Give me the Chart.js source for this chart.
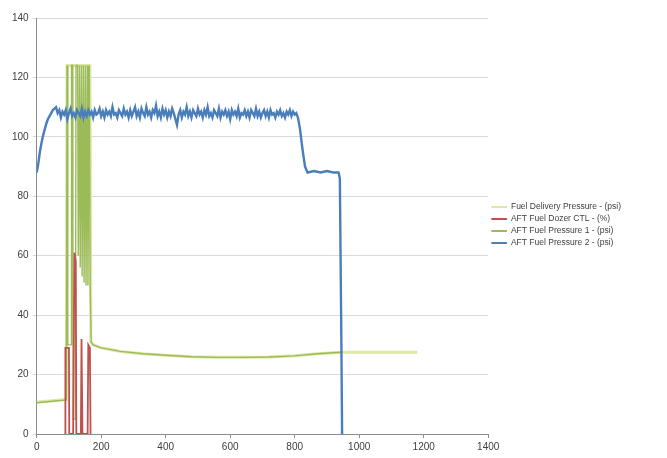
<!DOCTYPE html>
<html>
<head>
<meta charset="utf-8">
<script src="https://cdn.jsdelivr.net/npm/chart.js@4/dist/chart.umd.min.js"></script>
<style>
  html, body { margin: 0; padding: 0; background: #fff; }
</style>
</head>
<body>
<canvas id="fuelChart" width="667" height="458"></canvas>
<script>
// series names, in legend order
const seriesNames = [
    'Fuel Delivery Pressure - (psi)',
    'AFT Fuel Dozer CTL - (%)',
    'AFT Fuel Pressure 1 - (psi)',
    'AFT Fuel Pressure 2 - (psi)',
];
const seriesColors = ['#dfe7a6', '#c0504d', '#9bbb59', '#4a7ebb'];

// axis ticks
const xTicks = [0, 200, 400, 600, 800, 1000, 1200, 1400];
const yTicks = [0, 20, 40, 60, 80, 100, 120, 140];

// Fuel Delivery Pressure (pale line under the green one)
const deliveryX = [0, 92, 94, 165, 168, 175, 200, 260, 330, 400, 480, 560, 640, 720, 800, 870, 945, 1050, 1180];
const deliveryY = [10.8, 11.6, 124, 124, 31, 30, 29, 27.8, 27, 26.5, 26, 25.8, 25.8, 25.9, 26.3, 27, 27.5, 27.5, 27.5];

// AFT Fuel Dozer CTL - red spikes
const dozerX = [86, 88, 89, 100, 101, 112, 113, 117, 121, 123, 137, 139, 142, 158, 160, 165, 167];
const dozerY = [0, 0, 29, 29, 0, 0, 0, 61, 58, 0, 0, 32, 0, 0, 30, 29, 0];

// AFT Fuel Pressure 1 - green
const press1X = [0, 50, 92, 94, 96, 97, 107, 108, 112, 113,
    120, 122, 127, 129, 133, 135, 139, 141, 145, 147,
    151, 153, 157, 159, 163, 166, 169, 175, 200, 260,
    330, 400, 480, 560, 640, 720, 800, 870, 945];
const press1Y = [10.5, 11, 11.5, 124, 124, 30, 30, 124, 124, 5,
    5, 124, 124, 60, 124, 56, 124, 53, 124, 51,
    124, 50, 124, 50, 124, 49, 31, 30, 29, 27.8,
    27, 26.5, 26, 25.8, 25.8, 25.9, 26.3, 27, 27.5];

// AFT Fuel Pressure 2 - blue
const press2X = [0, 5, 10, 15, 20, 25, 30, 35, 40, 45, 50,
    55, 60, 65, 70, 75, 80, 85, 90, 95, 100,
    105, 110, 115, 120, 125, 130, 135, 140, 145, 150,
    155, 160, 165, 170, 175, 180, 185, 190, 195, 200,
    205, 210, 215, 220, 225, 230, 235, 240, 245, 250,
    255, 260, 265, 270, 275, 280, 285, 290, 295, 300,
    305, 310, 315, 320, 325, 330, 335, 340, 345, 350,
    355, 360, 365, 370, 375, 380, 385, 390, 395, 400,
    405, 410, 415, 420, 425, 430, 435, 440, 445, 450,
    455, 460, 465, 470, 475, 480, 485, 490, 495, 500,
    505, 510, 515, 520, 525, 530, 535, 540, 545, 550,
    555, 560, 565, 570, 575, 580, 585, 590, 595, 600,
    605, 610, 615, 620, 625, 630, 635, 640, 645, 650,
    655, 660, 665, 670, 675, 680, 685, 690, 695, 700,
    705, 710, 715, 720, 725, 730, 735, 740, 745, 750,
    755, 760, 765, 770, 775, 780, 785, 790, 795, 800,
    805, 810, 816, 824, 832, 840, 860, 880, 900, 920, 936, 940, 944, 947];
const press2Y = [88, 91, 95, 98, 100.5, 102.5, 104.5, 106, 107, 108, 109,
    109.5, 110, 108, 109, 106.5, 108.5, 107.5, 109, 106, 108,
    109.5, 107, 108, 106.5, 109, 108, 107, 109.5, 106.5, 108.5,
    107, 109, 107.5, 108.5, 106.5, 109, 107.5, 108, 109.5, 107,
    108.5, 106.5, 109, 107.5, 108.5, 107, 110, 107.5, 108, 106.5,
    109, 108, 107, 109.5, 107.5, 108.5, 106.5, 109, 107, 108.5,
    110, 107, 108.5, 106.5, 109.5, 108, 107, 110, 107.5, 108.5,
    106.5, 109, 108, 110.5, 107, 108.5, 106.5, 109.5, 107.5, 109,
    106.5, 108.5, 107, 109.5, 108, 106, 104, 107.5, 109, 106.5,
    108.5, 107.5, 110, 107, 108.5, 106.5, 109, 108, 107, 109.5,
    107.5, 108.5, 106.5, 109, 107.5, 110, 107, 108, 106.5, 109,
    108, 107, 109.5, 106.5, 108.5, 107.5, 109, 107, 108.5, 106,
    109, 107.5, 108.5, 107, 109.5, 106.5, 108, 107.5, 109, 107,
    108.5, 106.5, 109, 108, 107, 109.5, 107, 108.5, 106.5, 108,
    109, 107, 108.5, 106.5, 109, 107.5, 108, 106.5, 108.5, 107.5,
    109, 107, 108, 106.5, 108.5, 107.5, 109, 107, 108.5, 107.5,
    108, 106.5, 103, 96, 90, 88, 88.5, 88, 88.5, 88, 88, 86, 40, 0];

const toPoints = (xs, ys) => xs.map((x, i) => ({ x: x, y: ys[i] }));

Chart.defaults.font.family = "'Liberation Sans', Arial, sans-serif";
Chart.defaults.color = '#404040';

// lift the legend block a little above the middle, like the original
const legendLift = {
    id: 'legendLift',
    afterLayout(chart) {
        chart.legend.top -= 12;
        chart.legend.bottom -= 12;
    },
};

const ctx = document.getElementById('fuelChart').getContext('2d');

new Chart(ctx, {
    type: 'scatter',
    data: {
        datasets: [
            { label: seriesNames[0], data: toPoints(deliveryX, deliveryY), borderWidth: 3, order: 3 },
            { label: seriesNames[1], data: toPoints(dozerX, dozerY), borderWidth: 1.8, order: 1 },
            { label: seriesNames[2], data: toPoints(press1X, press1Y), borderWidth: 1.4, order: 2 },
            { label: seriesNames[3], data: toPoints(press2X, press2Y), borderWidth: 2.4, order: 0 },
        ].map((ds, i) => Object.assign(ds, {
            showLine: true,
            borderColor: seriesColors[i],
            backgroundColor: seriesColors[i],
            pointRadius: 0,
            tension: 0,
        })),
    },
    options: {
        responsive: false,
        animation: false,
        layout: {
            padding: { top: 18, right: 36, bottom: 2, left: 8 },
        },
        plugins: {
            legend: {
                position: 'right',
                labels: {
                    boxWidth: 15,
                    boxHeight: 1,
                    padding: 3.5,
                    color: '#404040',
                    font: { size: 8.5 },
                    sort: (a, b) => a.datasetIndex - b.datasetIndex,
                    generateLabels: chart => Chart.defaults.plugins.legend.labels.generateLabels(chart)
                        .map(item => Object.assign(item, { lineWidth: 1 })),
                },
            },
            tooltip: { enabled: false },
        },
        scales: {
            x: {
                type: 'linear',
                min: 0,
                max: 1400,
                afterBuildTicks: axis => { axis.ticks = xTicks.map(v => ({ value: v })); },
                ticks: { font: { size: 10 }, padding: 3, callback: v => String(v) },
                grid: { drawOnChartArea: false, tickLength: 4, color: '#8c8c8c' },
                border: { color: '#8c8c8c' },
            },
            y: {
                min: 0,
                max: 140,
                afterBuildTicks: axis => { axis.ticks = yTicks.map(v => ({ value: v })); },
                ticks: { font: { size: 10 }, padding: 4, callback: v => String(v) },
                grid: { color: '#d9d9d9', tickLength: 4 },
                border: { color: '#8c8c8c' },
            },
        },
    },
    plugins: [legendLift],
});
</script>
</body>
</html>
